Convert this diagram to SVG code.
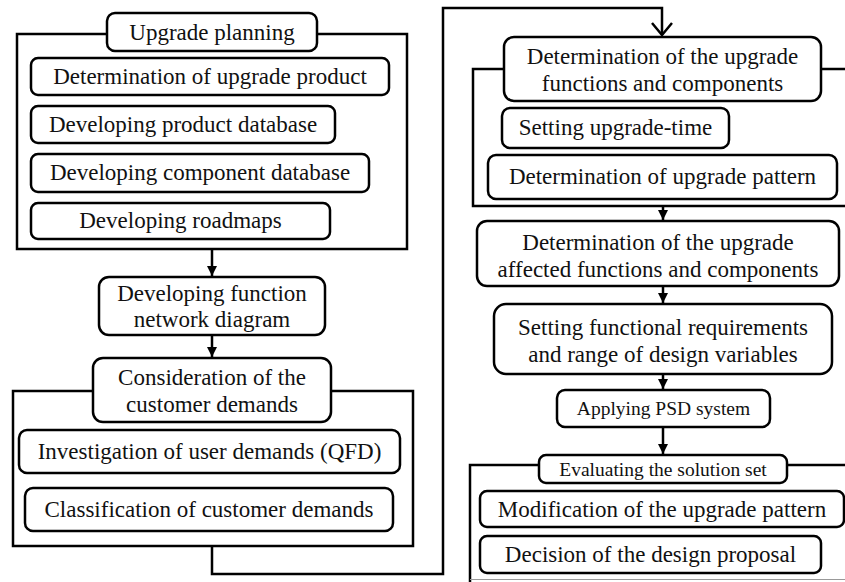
<svg xmlns="http://www.w3.org/2000/svg" width="845" height="582" viewBox="0 0 845 582">
<style>
.box{fill:#fff;stroke:#000;stroke-width:2.5}
.frame{fill:none;stroke:#000;stroke-width:2.5}
.t{font-size:23px;fill:#111;text-anchor:middle}
.s{font-size:19.5px}
.c{fill:none;stroke:#000;stroke-width:2.5}
</style>
<defs>
<marker id="ah" viewBox="0 0 10 10" refX="10" refY="5" markerWidth="10" markerHeight="10" markerUnits="userSpaceOnUse" orient="auto">
<path d="M0,0 L10,5 L0,10 Z" fill="#000"/>
</marker>
<marker id="av" viewBox="0 0 14 22" refX="13" refY="11" markerWidth="14" markerHeight="22" markerUnits="userSpaceOnUse" orient="auto">
<path d="M1,1 L13,11 L1,21" fill="none" stroke="#000" stroke-width="2.5"/>
</marker>
</defs>

<g id="frames">
<rect id="frame-planning" class="frame" x="17" y="34" width="390" height="215"/>
<rect id="frame-customer" class="frame" x="13" y="391" width="400" height="155"/>
<path id="frame-functions" class="frame" d="M850 69 H473 V206 H850"/>
<path id="frame-evaluating" class="frame" d="M850 465 H470 V582"/>
<line x1="470" y1="579.5" x2="845" y2="579.5" stroke="#999" stroke-width="1.2"/>
</g>

<g id="connectors">
<line class="c" x1="212" y1="249" x2="212" y2="276" marker-end="url(#ah)"/>
<line class="c" x1="212" y1="335" x2="212" y2="357" marker-end="url(#ah)"/>
<path class="c" d="M212 546 V574 H443 V8 H662 V35" marker-end="url(#av)"/>
<line class="c" x1="663" y1="206" x2="663" y2="220" marker-end="url(#ah)"/>
<line class="c" x1="663" y1="286" x2="663" y2="303" marker-end="url(#ah)"/>
<line class="c" x1="663" y1="374" x2="663" y2="389" marker-end="url(#ah)"/>
<line class="c" x1="663" y1="427" x2="663" y2="454" marker-end="url(#ah)"/>
</g>

<g id="nodes" font-family="'Liberation Serif', 'Times New Roman', serif">
<g id="n-upgrade-planning">
<rect class="box" x="107" y="13" width="210" height="38" rx="8"/>
<text class="t" x="212" y="40">Upgrade planning</text>
</g>
<g id="n-det-upgrade-product">
<rect class="box" x="31" y="58" width="358" height="37" rx="7"/>
<text class="t" x="210" y="84">Determination of upgrade product</text>
</g>
<g id="n-dev-product-db">
<rect class="box" x="31" y="106" width="304" height="37" rx="7"/>
<text class="t" x="183" y="132">Developing product database</text>
</g>
<g id="n-dev-component-db">
<rect class="box" x="31" y="154" width="338" height="38" rx="7"/>
<text class="t" x="200" y="180">Developing component database</text>
</g>
<g id="n-dev-roadmaps">
<rect class="box" x="31" y="203" width="299" height="36" rx="7"/>
<text class="t" x="180.5" y="228">Developing roadmaps</text>
</g>
<g id="n-dev-function-network">
<rect class="box" x="99" y="277" width="226" height="58" rx="10"/>
<text class="t" x="212" y="301">Developing function</text>
<text class="t" x="212" y="327">network diagram</text>
</g>
<g id="n-consideration">
<rect class="box" x="93" y="358" width="238" height="64" rx="10"/>
<text class="t" x="212" y="385">Consideration of the</text>
<text class="t" x="212" y="412">customer demands</text>
</g>
<g id="n-investigation">
<rect class="box" x="19" y="430" width="381" height="43" rx="8"/>
<text class="t" x="209.5" y="459">Investigation of user demands (QFD)</text>
</g>
<g id="n-classification">
<rect class="box" x="25" y="488" width="368" height="43" rx="8"/>
<text class="t" x="209" y="517">Classification of customer demands</text>
</g>

<g id="n-det-upgrade-functions">
<rect class="box" x="504" y="37" width="317" height="64" rx="10"/>
<text class="t" x="662.5" y="64">Determination of the upgrade</text>
<text class="t" x="662.5" y="91">functions and components</text>
</g>
<g id="n-setting-upgrade-time">
<rect class="box" x="502" y="108" width="227" height="40" rx="8"/>
<text class="t" x="615.5" y="135">Setting upgrade-time</text>
</g>
<g id="n-det-upgrade-pattern">
<rect class="box" x="488" y="155" width="349" height="44" rx="8"/>
<text class="t" x="662.5" y="184">Determination of upgrade pattern</text>
</g>
<g id="n-det-affected">
<rect class="box" x="477" y="221" width="362" height="65" rx="10"/>
<text class="t" x="658" y="250">Determination of the upgrade</text>
<text class="t" x="658" y="277">affected functions and components</text>
</g>
<g id="n-setting-functional">
<rect class="box" x="494" y="304" width="338" height="70" rx="12"/>
<text class="t" x="663" y="335">Setting functional requirements</text>
<text class="t" x="663" y="362">and range of design variables</text>
</g>
<g id="n-applying-psd">
<rect class="box" x="557" y="390" width="213" height="37" rx="8"/>
<text class="t s" x="663.5" y="415">Applying PSD system</text>
</g>
<g id="n-evaluating">
<rect class="box" x="539" y="455" width="248" height="28" rx="7"/>
<text class="t s" x="663" y="476">Evaluating the solution set</text>
</g>
<g id="n-modification">
<rect class="box" x="480" y="491" width="364" height="36" rx="7"/>
<text class="t" x="662" y="517">Modification of the upgrade pattern</text>
</g>
<g id="n-decision">
<rect class="box" x="480" y="536" width="341" height="37" rx="7"/>
<text class="t" x="650.5" y="562">Decision of the design proposal</text>
</g>
</g>
</svg>
